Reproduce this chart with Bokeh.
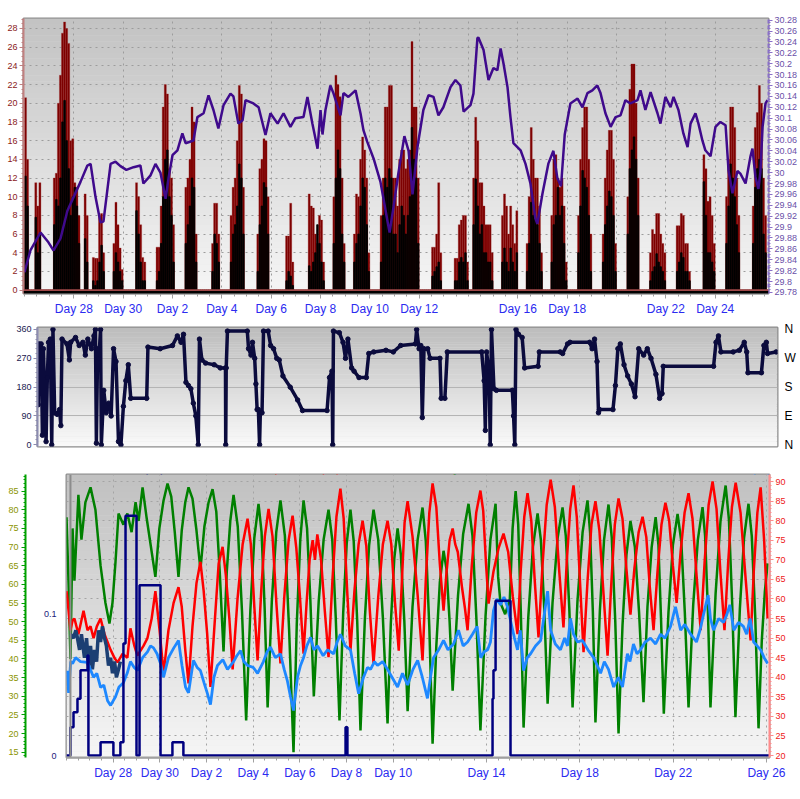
from bokeh.plotting import figure
from bokeh.models import Range1d, LinearAxis, FixedTicker, Label, Span
from bokeh.embed import file_html
from bokeh.resources import INLINE

# ---------------- data ----------------
TITLE = "Current last 30 days July 25 2026"
DAY_LABELS_TOP = {2: "Day 28", 4: "Day 30", 6: "Day 2", 8: "Day 4", 10: "Day 6", 12: "Day 8",
                  14: "Day 10", 16: "Day 12", 20: "Day 16", 22: "Day 18", 26: "Day 22", 28: "Day 24"}
DAY_LABELS_BOTTOM = {2: "Day 28", 4: "Day 30", 6: "Day 2", 8: "Day 4", 10: "Day 6", 12: "Day 8",
                     14: "Day 10", 18: "Day 14", 22: "Day 18", 26: "Day 22", 30: "Day 26"}

# wind gust (mph), 12 two-hour samples per day, day 0 = June 26
gust_rows = [
    [20.6, 14, 0, 0, 0, 11.5, 9, 11.5, 0, 0, 0, 0],
    [0, 0, 12, 12.5, 20, 23, 27.5, 28.7, 28, 26.4, 16, 16.2],
    [11.5, 11, 8, 0, 0, 10.3, 8, 0, 0, 3.5, 3.4, 3.4],
    [8, 8.2, 4, 0, 0, 0, 0, 5, 9.4, 7, 4.5, 2.2],
    [0, 0, 0, 0, 0, 0, 11.5, 10, 7, 3.5, 3, 0],
    [0, 0, 0, 0, 4.6, 4.6, 9, 19.6, 22, 21, 13, 12],
    [7, 0, 0, 0, 0, 0, 11, 12, 14, 19.6, 18, 6],
    [0, 0, 0, 0, 0, 0, 0, 5, 9.3, 9.3, 6, 0],
    [0, 0, 0, 0, 8, 11, 12, 16, 21.9, 21, 11, 0],
    [0, 0, 0, 0, 0, 6, 13, 14, 16.2, 16, 10, 0],
    [0, 0, 0, 0, 0, 0, 0, 5.8, 5.8, 9.3, 3, 0],
    [0, 0, 0, 0, 0, 0, 10.3, 9, 8.8, 6, 5, 8],
    [7.5, 3, 0, 0, 0, 0, 10, 23, 22, 20.7, 12, 5],
    [0, 0, 0, 0, 6, 10.3, 10, 14, 16.4, 15, 12, 4],
    [0, 0, 0, 0, 0, 8, 12, 19.6, 19.6, 21.9, 21.9, 12],
    [12, 9, 14, 15, 15, 13, 14, 15, 26.6, 19.6, 19.6, 12],
    [0, 0, 0, 0, 0, 0, 4.6, 4.6, 6, 11.5, 4, 0],
    [0, 0, 0, 0, 0, 3.4, 3.4, 7, 7.5, 8, 8, 3],
    [0, 0, 12, 18.5, 16, 11.5, 11.5, 9, 7, 7, 7, 4],
    [0, 0, 0, 0, 8, 10.3, 9, 6, 9, 7, 5, 8.5],
    [0, 0, 0, 0, 5, 10, 17.4, 14, 12, 12, 9, 4],
    [0, 0, 0, 0, 8, 14, 14.5, 12, 11, 12, 9, 3],
    [0, 0, 0, 0, 0, 8, 14, 17.4, 19.6, 19.6, 14, 6],
    [0, 0, 0, 0, 0, 6, 12, 15, 17.1, 17.1, 14, 5],
    [0, 0, 0, 0, 0, 10, 21.5, 24.2, 24.2, 20, 12, 0],
    [0, 0, 0, 0, 4, 6.5, 6, 8.2, 8.2, 6, 5, 4],
    [0, 0, 0, 0, 0, 6.9, 6.9, 8.2, 8, 5, 5, 2],
    [0, 0, 0, 0, 0, 0, 14.5, 13, 9.5, 10, 8, 5],
    [0, 0, 0, 0, 0, 10, 14, 19.6, 19.6, 17.4, 12, 8],
    [0, 0, 0, 0, 0, 0, 9, 17.4, 19, 21.9, 20, 12],
    [8, 0],
]
# average wind speed (mph), same sampling
avg_rows = [
    [12.2, 9, 0, 0, 0, 7.8, 4, 6, 0, 0, 0, 0],
    [0, 0, 7, 9.7, 9, 12, 18, 20.3, 16, 13, 8, 10],
    [11, 9, 5, 0, 0, 5.5, 3, 0, 0, 1, 0.5, 1],
    [3, 4.8, 2, 0, 0, 0, 0, 2, 4, 3, 2, 1],
    [0, 0, 0, 0, 0, 0, 8.5, 6, 3, 1, 1, 0],
    [0, 0, 0, 0, 1, 2, 5, 10, 14, 15, 10, 8],
    [3, 0, 0, 0, 0, 0, 5, 7, 9, 12, 11, 3],
    [0, 0, 0, 0, 0, 0, 0, 2, 6, 5, 3, 0],
    [0, 0, 0, 0, 3, 6, 7, 9, 13.5, 12, 6, 0],
    [0, 0, 0, 0, 0, 2, 7, 9, 11.5, 11, 6, 0],
    [0, 0, 0, 0, 0, 0, 0, 1, 2, 1.5, 0.5, 0],
    [0, 0, 0, 0, 0, 0, 2.6, 2, 3, 4, 7, 5],
    [3, 1, 0, 0, 0, 0, 5, 12, 15, 13, 6, 3],
    [0, 0, 0, 0, 3, 5, 6, 9, 12, 11, 7, 2],
    [0, 0, 0, 0, 0, 3, 8, 12, 11, 13, 12, 6],
    [6, 4, 7, 9, 8, 6, 8, 10, 17.4, 14, 12, 5],
    [0, 0, 0, 0, 0, 0, 1.5, 2, 2.5, 3, 1, 0],
    [0, 0, 0, 0, 0, 1, 1, 3, 3.5, 3, 4, 1],
    [0, 0, 7, 11.9, 9, 6, 7, 4, 4, 3, 3, 1],
    [0, 0, 0, 0, 3, 4.5, 3, 2, 4.5, 3, 2, 4],
    [0, 0, 0, 0, 2, 5, 9.4, 8, 7.6, 7, 5, 2],
    [0, 0, 0, 0, 3, 7, 8, 11, 8, 9, 5, 1],
    [0, 0, 0, 0, 0, 4, 9, 12.8, 12, 11, 8, 2],
    [0, 0, 0, 0, 0, 3, 7, 9, 10.6, 10, 8, 2],
    [0, 0, 0, 0, 0, 6, 13, 15, 16.4, 14, 8, 0],
    [0, 0, 0, 0, 1, 2, 2.5, 3.9, 3, 2.5, 2, 1],
    [0, 0, 0, 0, 0, 2, 3, 4, 3.5, 2, 2, 1],
    [0, 0, 0, 0, 0, 0, 11.6, 8, 4, 4, 3, 2],
    [0, 0, 0, 0, 0, 5, 9, 13.5, 12, 10, 7, 4],
    [0, 0, 0, 0, 0, 0, 5, 11, 13, 14, 13, 6],
    [4, 0],
]

# barometer (.in): (day, value)
BARO = [(0.0, 29.817), (0.24, 29.857), (0.65, 29.89), (0.97, 29.872), (1.18, 29.857), (1.46, 29.879),
        (1.74, 29.93), (1.99, 29.955), (2.27, 29.983), (2.55, 30.013), (2.68, 30.016), (2.88, 29.955),
        (3.08, 29.909), (3.2, 29.91), (3.49, 30.016), (3.69, 30.02), (3.89, 30.012), (4.13, 30.005),
        (4.42, 30.01), (4.7, 30.013), (4.82, 29.98), (5.11, 29.995), (5.31, 30.016), (5.51, 30.0),
        (5.72, 29.952), (5.84, 29.99), (6.0, 30.032), (6.2, 30.041), (6.4, 30.072), (6.53, 30.054),
        (6.85, 30.059), (7.01, 30.102), (7.26, 30.109), (7.46, 30.142), (7.66, 30.115), (7.86, 30.081),
        (8.07, 30.124), (8.35, 30.145), (8.47, 30.14), (8.67, 30.09), (8.84, 30.096), (8.96, 30.133),
        (9.28, 30.127), (9.49, 30.12), (9.77, 30.069), (9.97, 30.109), (10.26, 30.09), (10.5, 30.109),
        (10.78, 30.084), (10.98, 30.1), (11.31, 30.102), (11.47, 30.139), (11.67, 30.09), (11.88, 30.044),
        (12.0, 30.115), (12.08, 30.07), (12.2, 30.115), (12.4, 30.16), (12.53, 30.145), (12.81, 30.105),
        (12.93, 30.146), (13.13, 30.139), (13.42, 30.151), (13.62, 30.109), (13.74, 30.078), (13.9, 30.056),
        (14.15, 30.026), (14.43, 29.983), (14.71, 29.912), (14.8, 29.89), (14.96, 29.937), (15.16, 30.0),
        (15.4, 30.067), (15.57, 30.04), (15.73, 29.96), (15.93, 30.047), (16.17, 30.115), (16.38, 30.142),
        (16.58, 30.139), (16.78, 30.105), (16.98, 30.12), (17.27, 30.157), (17.47, 30.17), (17.67, 30.16),
        (17.8, 30.112), (18.08, 30.124), (18.2, 30.145), (18.36, 30.247), (18.4, 30.248), (18.61, 30.225),
        (18.81, 30.17), (19.01, 30.192), (19.17, 30.188), (19.3, 30.228), (19.42, 30.2), (19.58, 30.157),
        (19.7, 30.102), (19.82, 30.054), (20.11, 30.041), (20.31, 30.016), (20.51, 29.98), (20.71, 29.916),
        (20.79, 29.906), (21.0, 29.962), (21.24, 30.017), (21.44, 30.04), (21.6, 29.99), (21.75, 29.975),
        (21.9, 30.07), (22.13, 30.127), (22.42, 30.136), (22.62, 30.12), (22.82, 30.146), (23.02, 30.151),
        (23.22, 30.16), (23.35, 30.146), (23.55, 30.109), (23.76, 30.084), (23.96, 30.102), (24.16, 30.105),
        (24.36, 30.133), (24.56, 30.127), (24.85, 30.133), (24.97, 30.151), (25.17, 30.115), (25.38, 30.148),
        (25.66, 30.109), (25.78, 30.09), (25.98, 30.139), (26.19, 30.12), (26.31, 30.139), (26.51, 30.115),
        (26.71, 30.072), (26.88, 30.047), (27.0, 30.09), (27.2, 30.109), (27.32, 30.09), (27.48, 30.059),
        (27.6, 30.041), (27.81, 30.03), (28.01, 30.084), (28.21, 30.093), (28.42, 30.087), (28.54, 30.004),
        (28.7, 29.962), (28.9, 30.003), (29.02, 29.998), (29.23, 29.98), (29.43, 30.03), (29.51, 30.044),
        (29.63, 29.992), (29.75, 29.97), (29.83, 30.0), (29.92, 30.084), (30.04, 30.127), (30.12, 30.133)]

# wind direction (degrees): (day, value)
WIND_DIR = [(0.00, 300), (0.03, 125), (0.06, 315), (0.15, 315), (0.20, 30), (0.24, 300), (0.35, 10), (0.40, 210),
            (0.45, 320), (0.52, 330), (0.58, 0), (0.63, 360), (0.70, 100), (0.80, 95), (0.90, 110), (0.95, 60),
            (1.00, 330), (1.20, 315), (1.30, 265), (1.35, 320), (1.55, 335), (1.70, 310), (1.85, 320), (1.95, 280),
            (2.05, 330), (2.20, 300), (2.30, 340), (2.36, 360), (2.40, 5), (2.45, 300), (2.50, 270), (2.57, 360),
            (2.60, 0), (2.70, 170), (2.80, 100), (2.90, 130), (3.00, 90), (3.10, 300), (3.20, 260), (3.30, 10),
            (3.40, 0), (3.50, 120), (3.60, 200), (3.70, 250), (3.80, 145), (4.45, 145), (4.50, 305), (5.00, 300),
            (5.50, 310), (5.70, 340), (5.85, 320), (5.95, 345), (6.05, 195), (6.15, 185), (6.25, 175), (6.35, 130),
            (6.45, 90), (6.55, 0), (6.60, 330), (6.70, 265), (6.85, 255), (7.20, 250), (7.45, 240), (7.66, 240),
            (7.67, 0), (7.69, 240), (7.74, 355), (8.55, 355), (8.60, 300), (8.70, 280), (8.76, 320), (8.85, 270),
            (8.90, 190), (8.95, 110), (9.00, 110), (9.05, 0), (9.08, 100), (9.15, 100), (9.21, 355), (9.40, 355),
            (9.50, 310), (9.62, 300), (9.75, 270), (9.85, 265), (10.00, 215), (10.30, 180), (10.60, 140),
            (10.80, 107), (11.80, 107), (11.90, 210), (12.00, 230), (12.03, 0), (12.06, 355), (12.30, 350),
            (12.45, 320), (12.55, 270), (12.65, 330), (12.80, 240), (12.90, 230), (13.10, 210), (13.40, 210),
            (13.50, 285), (13.70, 290), (14.20, 295), (14.50, 290), (14.80, 310), (15.40, 315), (15.45, 360),
            (15.55, 300), (15.62, 310), (15.68, 85), (15.75, 300), (15.90, 300), (16.00, 270), (16.40, 270),
            (16.45, 145), (16.60, 145), (16.70, 290), (18.10, 290), (18.20, 200), (18.25, 45), (18.30, 290),
            (18.40, 230), (18.45, 0), (18.50, 360), (18.60, 175), (18.70, 170), (19.35, 170), (19.40, 90),
            (19.45, 0), (19.50, 360), (19.60, 345), (19.75, 335), (19.85, 240), (20.40, 245), (20.45, 290),
            (21.30, 290), (21.40, 285), (21.60, 315), (21.70, 320), (22.50, 320), (22.60, 300), (22.70, 330),
            (22.80, 260), (22.86, 100), (22.90, 110), (23.45, 110), (23.55, 185), (23.65, 300), (23.75, 315),
            (23.90, 250), (24.05, 215), (24.20, 190), (24.35, 150), (24.50, 300), (24.70, 280), (24.85, 300),
            (25.00, 270), (25.20, 220), (25.35, 145), (25.45, 160), (25.50, 245), (27.55, 245), (27.65, 320),
            (27.75, 340), (27.85, 290), (28.35, 290), (28.60, 295), (28.80, 320), (28.90, 290), (28.95, 225),
            (29.50, 225), (29.60, 310), (29.70, 320), (29.75, 285), (30.10, 290)]

# rainfall (.in): (day, value) step series
RAIN = [(0.0, 0), (0.17, 0.02), (0.3, 0.0305), (0.47, 0.04), (0.6, 0.06), (0.9, 0.0704), (0.94, 0),
        (1.46, 0.0094), (2.01, 0), (2.31, 0.0094), (2.44, 0.079), (2.53, 0.169), (3.0, 0), (3.13, 0.12),
        (4.03, 0), (4.54, 0.0094), (5.01, 0), (11.96, 0.02), (12.04, 0), (18.26, 0.04), (18.3, 0.06),
        (18.39, 0.109), (19.03, 0), (30.13, 0)]

# temperature (F): (day, value)
TEMP = [(0.0, 62), (0.04, 60), (0.17, 52), (0.26, 54.5), (0.34, 55), (0.51, 51), (0.62, 54), (0.73, 57),
        (0.9, 52), (1.03, 53), (1.16, 50), (1.3, 53), (1.46, 55), (1.63, 51), (1.89, 47), (2.05, 45),
        (2.19, 43.8), (2.4, 46), (2.61, 45), (2.74, 52.5), (2.91, 48), (3.04, 45.5), (3.3, 48), (3.47, 50),
        (3.65, 55), (3.81, 62), (3.99, 52), (4.16, 41),
        (4.37, 52), (4.59, 59), (4.8, 63), (4.94, 58), (5.09, 47), (5.23, 38.4),
        (5.4, 53), (5.57, 64), (5.74, 69.5), (5.88, 62), (6.03, 51), (6.17, 37.5),
        (6.34, 53), (6.52, 69), (6.69, 73.3), (6.83, 66), (6.98, 55), (7.12, 42),
        (7.33, 60), (7.55, 74), (7.76, 80.5), (7.9, 74), (8.05, 58), (8.19, 44.3),
        (8.35, 62.5), (8.5, 76), (8.66, 83), (8.83, 76), (9.0, 58.5), (9.17, 43.5),
        (9.34, 61), (9.52, 75), (9.69, 81.3), (9.85, 73), (10.0, 61), (10.16, 46),
        (10.29, 59), (10.42, 70), (10.55, 75), (10.65, 70), (10.75, 76.5), (10.91, 70), (11.07, 57), (11.23, 45.1),
        (11.4, 65), (11.57, 81), (11.74, 88.2), (11.88, 80.5), (12.03, 62), (12.17, 46.8),
        (12.34, 62), (12.52, 74), (12.69, 80), (12.85, 73.5), (13.0, 57), (13.16, 43.5),
        (13.36, 60.5), (13.56, 74), (13.76, 80), (13.92, 74), (14.08, 59), (14.24, 46.8),
        (14.37, 64), (14.49, 79.5), (14.62, 85), (14.83, 76), (15.05, 61), (15.26, 44.3),
        (15.4, 65), (15.55, 82), (15.69, 89.5), (15.85, 83.5), (16.0, 69), (16.16, 57),
        (16.29, 67), (16.42, 75), (16.55, 78), (16.66, 74), (16.77, 72), (16.95, 63), (17.08, 57.5), (17.19, 52),
        (17.37, 68.5), (17.56, 82), (17.74, 87.7), (17.86, 82.5), (17.98, 69), (18.09, 58.8),
        (18.3, 67), (18.52, 73), (18.73, 76.7), (18.93, 72), (19.13, 60.5), (19.33, 51),
        (19.47, 67.5), (19.62, 81), (19.76, 87), (19.92, 80), (20.07, 64.5), (20.23, 50.2),
        (20.4, 68.5), (20.58, 84), (20.75, 90.5), (20.93, 83.5), (21.12, 67), (21.3, 52.7),
        (21.44, 69.5), (21.59, 83), (21.73, 89), (21.87, 81), (22.02, 63), (22.16, 46.4),
        (22.33, 64.5), (22.5, 79), (22.67, 85), (22.84, 77.5), (23.02, 61), (23.19, 45.5),
        (23.35, 64), (23.5, 79), (23.66, 85.7), (23.83, 80.5), (24.0, 67.5), (24.17, 56),
        (24.34, 67.8), (24.52, 77), (24.69, 81), (24.85, 75.8), (25.0, 63), (25.16, 52),
        (25.33, 67), (25.5, 79), (25.67, 84.6), (25.83, 80), (25.99, 68.5), (26.15, 59),
        (26.32, 72), (26.49, 82), (26.66, 87), (26.83, 80.5), (27.01, 65.5), (27.18, 52),
        (27.35, 69.5), (27.52, 84), (27.69, 90), (27.86, 83), (28.03, 66.5), (28.2, 52),
        (28.36, 69.5), (28.52, 83.5), (28.68, 89.7), (28.89, 82), (29.11, 65), (29.32, 49.4),
        (29.46, 67.5), (29.61, 82), (29.75, 88.5), (29.9, 75), (30.05, 55)]

# humidity (%): (day, value)
HUMIDITY = [(0.0, 78), (0.09, 60), (0.17, 40), (0.26, 75), (0.34, 61), (0.51, 84), (0.64, 72), (0.81, 82),
            (1.03, 86), (1.24, 80), (1.46, 65), (1.67, 55), (1.84, 49.5), (1.97, 55), (2.1, 66), (2.23, 79),
            (2.44, 76), (2.61, 79), (2.79, 74), (2.96, 82), (3.09, 77), (3.26, 86), (3.43, 78), (3.62, 70),
            (3.81, 62),
            (3.98, 75), (4.16, 82.5), (4.33, 87), (4.49, 83.5), (4.64, 74), (4.8, 62),
            (4.94, 74.5), (5.09, 82), (5.23, 86), (5.4, 83), (5.57, 74.5), (5.74, 64),
            (5.91, 75.5), (6.09, 82), (6.26, 85.5), (6.42, 79.5), (6.57, 63), (6.73, 42),
            (6.87, 63.5), (7.02, 77), (7.16, 84), (7.34, 75.5), (7.52, 53), (7.7, 23.5),
            (7.88, 53), (8.05, 72.5), (8.23, 81.6), (8.36, 74), (8.49, 54), (8.62, 27),
            (8.8, 55.5), (8.99, 74), (9.17, 82.5), (9.36, 73), (9.54, 48), (9.73, 15),
            (9.87, 49.5), (10.02, 72), (10.16, 82.5), (10.31, 75), (10.45, 56), (10.6, 30),
            (10.81, 55.5), (11.02, 72), (11.23, 80), (11.39, 72), (11.54, 51), (11.7, 23.5),
            (11.86, 52.5), (12.01, 71), (12.17, 80), (12.31, 71.5), (12.46, 50), (12.6, 20.8),
            (12.79, 51), (12.97, 70.5), (13.16, 80), (13.36, 72), (13.56, 51), (13.76, 22.7),
            (13.9, 49.5), (14.05, 67), (14.19, 75), (14.33, 68), (14.48, 50), (14.62, 26),
            (14.83, 54), (15.05, 72), (15.26, 80.6), (15.4, 71.5), (15.55, 48.5), (15.69, 17.3),
            (15.85, 43.5), (16.0, 60.5), (16.16, 69), (16.29, 64), (16.42, 50), (16.55, 31.5),
            (16.78, 57), (17.0, 73.5), (17.23, 81.6), (17.4, 73), (17.57, 50.5), (17.74, 20.8),
            (17.96, 51.5), (18.17, 72), (18.39, 81.6), (18.5, 62), (18.6, 55), (18.8, 52), (19.0, 56),
            (19.12, 75), (19.25, 85), (19.36, 76), (19.47, 53), (19.59, 21.6),
            (19.79, 51), (19.99, 70), (20.19, 79), (20.33, 72), (20.48, 53), (20.62, 28),
            (20.83, 55), (21.05, 72.5), (21.26, 80.6), (21.4, 73), (21.55, 53.5), (21.69, 27),
            (21.9, 55.5), (22.12, 74), (22.33, 82.5), (22.44, 74), (22.56, 52.5), (22.67, 23),
            (22.86, 53), (23.04, 72), (23.23, 81.4), (23.37, 72.5), (23.52, 50), (23.66, 20),
            (23.83, 49), (24.0, 68), (24.17, 77), (24.36, 70), (24.54, 52.5), (24.73, 28.4),
            (24.9, 54), (25.08, 70), (25.25, 78), (25.37, 70.5), (25.48, 51), (25.6, 25.3),
            (25.8, 52.5), (25.99, 70.5), (26.19, 78.9), (26.35, 71.5), (26.5, 52.5), (26.66, 27),
            (26.86, 54.5), (27.06, 72), (27.26, 80.7), (27.37, 73), (27.49, 53), (27.6, 27),
            (27.82, 57.5), (28.03, 77), (28.25, 86.5), (28.39, 77.5), (28.53, 55), (28.67, 24.4),
            (28.86, 53.5), (29.04, 72.5), (29.23, 81.6), (29.37, 73), (29.52, 51), (29.66, 21.4),
            (29.8, 45), (29.93, 58), (30.05, 65.6)]

# dew point (F): (day, value)
DEW_POINT = [(0.04, 41.7), (0.09, 36), (0.18, 44), (0.26, 43.5), (0.39, 45), (0.6, 44), (0.9, 43.8),
             (1.16, 40), (1.3, 41), (1.46, 37.4), (1.6, 38), (1.76, 34), (1.89, 32.8), (2.1, 35), (2.25, 37.5),
             (2.44, 38.6), (2.6, 41), (2.74, 44), (2.9, 42.5), (3.04, 41.7), (3.26, 45), (3.47, 46.5),
             (3.6, 48), (3.73, 47.5), (3.88, 46), (4.03, 43.5), (4.16, 40), (4.37, 45), (4.6, 47.5),
             (4.8, 49.4), (4.95, 43), (5.1, 37.5), (5.23, 36), (5.44, 44.3), (5.6, 42.5), (5.74, 41.7),
             (5.9, 38.5), (6.04, 35.8), (6.17, 33), (6.32, 40), (6.47, 43), (6.7, 44.5), (6.9, 42), (7.16, 44),
             (7.3, 45.5), (7.46, 46.8), (7.6, 44), (7.76, 43), (8.0, 42.5), (8.19, 41), (8.44, 44),
             (8.6, 46.5), (8.74, 47.7), (8.95, 45), (9.17, 46), (9.33, 42), (9.47, 39), (9.6, 35),
             (9.73, 31.5), (9.9, 40), (10.03, 43), (10.16, 45), (10.3, 48), (10.46, 50.2), (10.6, 47),
             (10.76, 48), (11.0, 45.5), (11.19, 47), (11.45, 46), (11.6, 49), (11.74, 51), (11.95, 48),
             (12.17, 47), (12.35, 41), (12.52, 35.8), (12.73, 40), (12.9, 42.5), (13.03, 42), (13.2, 44),
             (13.33, 43), (13.55, 44), (13.76, 42), (13.95, 40), (14.19, 37.5), (14.4, 41), (14.62, 38),
             (14.85, 42), (15.05, 44.3), (15.25, 40), (15.47, 34.6), (15.6, 40), (15.73, 45), (15.95, 47),
             (16.16, 49.4), (16.35, 47), (16.59, 48.5), (16.8, 52), (17.0, 48), (17.19, 49), (17.4, 51),
             (17.6, 53), (17.75, 45), (17.9, 46.5), (18.05, 47), (18.17, 49), (18.3, 57), (18.45, 60),
             (18.6, 58.5), (18.75, 60.5), (18.9, 58), (19.03, 54.5), (19.2, 50), (19.33, 47), (19.45, 52),
             (19.59, 41.7), (19.75, 45), (19.89, 46), (20.1, 48), (20.32, 49.4), (20.5, 57), (20.62, 62),
             (20.75, 52), (20.95, 48.5), (21.17, 47), (21.35, 50), (21.47, 48), (21.6, 55), (21.73, 51),
             (21.9, 49), (22.11, 49.4), (22.35, 47), (22.59, 45), (22.75, 43), (22.89, 41), (23.05, 44),
             (23.23, 42), (23.45, 37.5), (23.65, 40), (23.83, 37.5), (24.04, 46), (24.15, 44), (24.3, 48.5),
             (24.45, 46), (24.6, 47), (24.8, 49), (25.03, 50), (25.25, 48.5), (25.46, 51), (25.65, 50),
             (25.89, 53), (26.1, 58), (26.32, 52), (26.5, 53.5), (26.75, 51), (27.0, 49), (27.15, 52),
             (27.3, 56), (27.5, 61), (27.6, 55), (27.73, 52), (27.95, 55), (28.16, 54), (28.3, 56),
             (28.43, 58.5), (28.6, 52), (28.8, 54), (29.01, 53), (29.15, 51), (29.3, 55), (29.45, 49),
             (29.6, 48), (29.75, 47), (29.9, 45), (30.05, 43.5)]

# windchill (F): (day, value) where it differs from temperature
WINDCHILL = [(0.17, 51), (0.3, 50), (0.4, 52), (0.47, 50), (0.56, 47), (0.64, 51), (0.77, 45), (0.86, 50),
             (0.94, 43), (1.03, 48), (1.11, 42), (1.2, 47), (1.29, 44), (1.37, 52), (1.46, 49), (1.54, 53),
             (1.63, 50), (1.71, 48), (1.8, 43), (1.89, 45), (1.97, 41), (2.06, 44), (2.14, 40), (2.23, 42),
             (2.31, 44)]

# ---------------- helpers ----------------
FONT = "Liberation Sans"
BLUE_LBL = "#2b2bf0"


def unzip(pairs):
    return [a for a, _ in pairs], [b for _, b in pairs]


def add_bg(p, x0, x1, y0, y1, ctop, cbot, n=48):
    step = (y1 - y0) / n
    bots, tops, cols = [], [], []
    for i in range(n):
        f = (i + 0.5) / n
        c = tuple(int(round(cbot[k] + (ctop[k] - cbot[k]) * f)) for k in range(3))
        bots.append(y0 + i * step)
        tops.append(y0 + (i + 1) * step + step * 0.05)
        cols.append("#%02x%02x%02x" % c)
    p.quad(left=x0, right=x1, bottom=bots, top=tops, fill_color=cols, line_color=None, level="image")


def style_common(p):
    p.outline_line_color = "#8c8c8c"
    p.outline_line_width = 2
    p.border_fill_color = "white"
    p.background_fill_color = "#e6e6e6"


def style_axis(a, color, label_color, major_out=4, minor_out=2, standoff=2, size="9px", width=2):
    a.major_label_text_font_size = size
    a.major_label_text_color = label_color
    a.major_label_text_font = FONT
    a.axis_line_color = color
    a.axis_line_width = width
    a.major_tick_line_color = color
    a.minor_tick_line_color = color
    a.major_tick_out = major_out
    a.major_tick_in = 0
    a.minor_tick_out = minor_out
    a.minor_tick_in = 0
    a.major_label_standoff = standoff


# ---------------- top panel: wind speed + barometer ----------------
p1 = figure(width=800, height=320, x_range=Range1d(-0.04, 30.16), y_range=Range1d(-0.36, 29.07),
            output_backend="svg", toolbar_location=None,
            min_border_left=23, min_border_right=32, min_border_top=18, min_border_bottom=27)
style_common(p1)
p1.extra_y_ranges = {"baro": Range1d(29.778, 30.283)}
add_bg(p1, -0.04, 30.16, -0.36, 29.07, (194, 194, 194), (246, 246, 246))

gx, gy, ax_, ay = [], [], [], []
for d, row in enumerate(gust_rows):
    for k, v in enumerate(row):
        gx.append(d + k / 12.0 + 1 / 24.0)
        gy.append(v)
for d, row in enumerate(avg_rows):
    for k, v in enumerate(row):
        ax_.append(d + k / 12.0 + 1 / 24.0)
        ay.append(v)

p1.vbar(x=gx, top=gy, bottom=0, width=0.083, fill_color="#7d0000", line_color="#9a2020",
        line_width=0.5, line_alpha=0.6)
p1.vbar(x=ax_, top=ay, bottom=-0.25, width=0.06, fill_color="black", line_color="black", line_width=0.8)
p1.add_layout(Span(location=0, dimension="width", line_color="#a04848", line_width=2))
p1.add_layout(Span(location=-0.25, dimension="width", line_color="black", line_width=3))
bt, bv = unzip(BARO)
p1.line(bt, bv, y_range_name="baro", line_color="#3f0a8c", line_width=2.5)

ya = p1.yaxis[0]
ya.ticker = FixedTicker(ticks=list(range(0, 29, 2)), minor_ticks=[i * 0.5 for i in range(0, 59)])
style_axis(ya, "#c08080", "#8b1a1a")

baro_ticks = [round(29.78 + 0.02 * i, 2) for i in range(26)]
baro_axis = LinearAxis(y_range_name="baro", ticker=FixedTicker(ticks=baro_ticks,
                       minor_ticks=[round(29.78 + 0.005 * i, 3) for i in range(101)]),
                       major_label_overrides={t: ("%g" % t) for t in baro_ticks})
style_axis(baro_axis, "#8a70c8", "#6a4fa8")
baro_axis.axis_line_dash = "4 2"
p1.add_layout(baro_axis, "right")

xa = p1.xaxis[0]
xa.ticker = FixedTicker(ticks=sorted(DAY_LABELS_TOP), minor_ticks=[i * 0.5 for i in range(0, 61)])
xa.major_label_overrides = DAY_LABELS_TOP
style_axis(xa, "#a0a0a0", BLUE_LBL, major_out=5, minor_out=3, standoff=3, size="12px")

p1.xgrid.ticker = FixedTicker(ticks=list(range(2, 30, 2)))
p1.ygrid.ticker = FixedTicker(ticks=list(range(2, 29, 2)))
for g in (p1.xgrid[0], p1.ygrid[0]):
    g.grid_line_color = "#9c9c9c"
    g.grid_line_dash = "dotted"
    g.grid_line_width = 1

for txt, x, col in (("Windspeed (mph)", 3.57, "#8b0000"), (TITLE, 14.43, "black"),
                    ("Barometer (.in)", 28.13, "#3f0a8c")):
    p1.add_layout(Label(x=x, y=29.93, text=txt, text_align="center", text_baseline="middle",
                        text_font=FONT, text_font_size="11.5px", text_color=col))

# ---------------- middle panel: wind direction ----------------
p2 = figure(width=800, height=135, x_range=Range1d(0, 30.155), y_range=Range1d(-5.3, 366.2),
            output_backend="svg", toolbar_location=None, x_axis_location=None,
            min_border_left=37, min_border_right=23, min_border_top=7, min_border_bottom=9)
style_common(p2)
add_bg(p2, 0, 30.155, -5.3, 366.2, (188, 188, 188), (250, 250, 250))
dt, dv = unzip(WIND_DIR)
p2.line(dt, dv, line_color="#0b0b3d", line_width=3.5)
p2.scatter(dt, dv, size=4.5, fill_color="#0b0b3d", line_color="#0b0b3d")

la = p2.yaxis[0]
la.ticker = FixedTicker(ticks=[0, 90, 180, 270, 360], minor_ticks=list(range(0, 361, 15)))
style_axis(la, "#8c8cb0", "#1a1a50")

ra = LinearAxis(ticker=FixedTicker(ticks=[0, 90, 180, 270, 360]),
                major_label_overrides={0: "N", 90: "E", 180: "S", 270: "W", 360: "N"})
ra.major_label_text_font_size = "12px"
ra.major_label_text_color = "black"
ra.major_label_text_font = FONT
ra.axis_line_color = None
ra.major_tick_line_color = None
ra.minor_tick_line_color = None
ra.major_label_standoff = 1
p2.add_layout(ra, "right")
p2.xgrid.visible = False
p2.ygrid.ticker = FixedTicker(ticks=[90, 180, 270])
p2.ygrid.grid_line_color = "#b4b4b4"
p2.ygrid.grid_line_width = 1

# ---------------- bottom panel: rain, temperature, humidity, windchill, dew point ----------------
p3 = figure(width=800, height=344, x_range=Range1d(0, 30.13), y_range=Range1d(-0.0014, 0.198),
            output_backend="svg", toolbar_location=None,
            min_border_left=66, min_border_right=31, min_border_top=19, min_border_bottom=42)
style_common(p3)
p3.extra_y_ranges = {"hum": Range1d(13.58, 89.45), "temp": Range1d(19.49, 91.8)}
add_bg(p3, 0, 30.13, -0.0014, 0.198, (192, 192, 192), (246, 246, 246))
p3.add_layout(Span(location=0.17, dimension="height", line_color="#8c8c8c", line_width=2))

tt, tv = unzip(TEMP)
ht, hv = unzip(HUMIDITY)
wt, wv = unzip(WINDCHILL)
dwt, dwv = unzip(DEW_POINT)
rt, rv = unzip(RAIN)
p3.line(ht, hv, y_range_name="hum", line_color="#008000", line_width=2.5)
p3.line(tt, tv, y_range_name="temp", line_color="#ff0000", line_width=2.5)
p3.line(wt, wv, y_range_name="temp", line_color="#1c3f73", line_width=3.5)
p3.line(dwt, dwv, y_range_name="temp", line_color="#1e88ff", line_width=2.8)
p3.step(rt, rv, mode="after", line_color="#000080", line_width=2.5)

rain_ax = p3.yaxis[0]
rain_ax.ticker = FixedTicker(ticks=[0, 0.1])
rain_ax.major_label_text_font_size = "9px"
rain_ax.major_label_text_color = "#1a1a7a"
rain_ax.major_label_text_font = FONT
rain_ax.axis_line_color = None
rain_ax.major_tick_line_color = None
rain_ax.minor_tick_line_color = None
rain_ax.major_label_standoff = 4
rain_ax.axis_label = " "
rain_ax.axis_label_text_font_size = "10px"
rain_ax.axis_label_standoff = 1

hum_ax = LinearAxis(y_range_name="hum", ticker=FixedTicker(ticks=list(range(15, 90, 5)),
                    minor_ticks=list(range(14, 90, 1))))
style_axis(hum_ax, "#00a000", "#8a9400", standoff=3)
p3.add_layout(hum_ax, "left")

temp_ax = LinearAxis(y_range_name="temp", ticker=FixedTicker(ticks=list(range(20, 95, 5)),
                     minor_ticks=list(range(20, 92, 1))))
style_axis(temp_ax, "#ff8c8c", "#ee2020")
p3.add_layout(temp_ax, "right")

xb = p3.xaxis[0]
xb.ticker = FixedTicker(ticks=sorted(DAY_LABELS_BOTTOM), minor_ticks=[i * 0.5 for i in range(0, 61)])
xb.major_label_overrides = DAY_LABELS_BOTTOM
style_axis(xb, "#a0a0a0", BLUE_LBL, major_out=5, minor_out=3, standoff=3, size="12px")

p3.xgrid.ticker = FixedTicker(ticks=sorted(DAY_LABELS_BOTTOM))
yg = p3.ygrid[0]
yg.y_range_name = "temp"
yg.ticker = FixedTicker(ticks=list(range(25, 95, 5)))
for g in (p3.xgrid[0], yg):
    g.grid_line_color = "#a4a4a4"
    g.grid_line_dash = "dotted"
    g.grid_line_width = 1

for txt, x, col in (("Rainfall (.in)", 2.87, "#000080"), ("Temperature (°F)", 9.86, "#ff0000"),
                    ("Humidity", 15.86, "#008000"), ("Windchill", 22.07, "#0d3366"),
                    ("Dew Point (°F)", 28.59, "#1e88ff")):
    p3.add_layout(Label(x=x, y=0.2022, text=txt, text_align="center", text_baseline="middle",
                        text_font=FONT, text_font_size="11.5px", text_color=col))

# three independent roots stacked in the page (no frame alignment between panels)
open("out.html", "w").write(file_html([p1, p2, p3], INLINE))
